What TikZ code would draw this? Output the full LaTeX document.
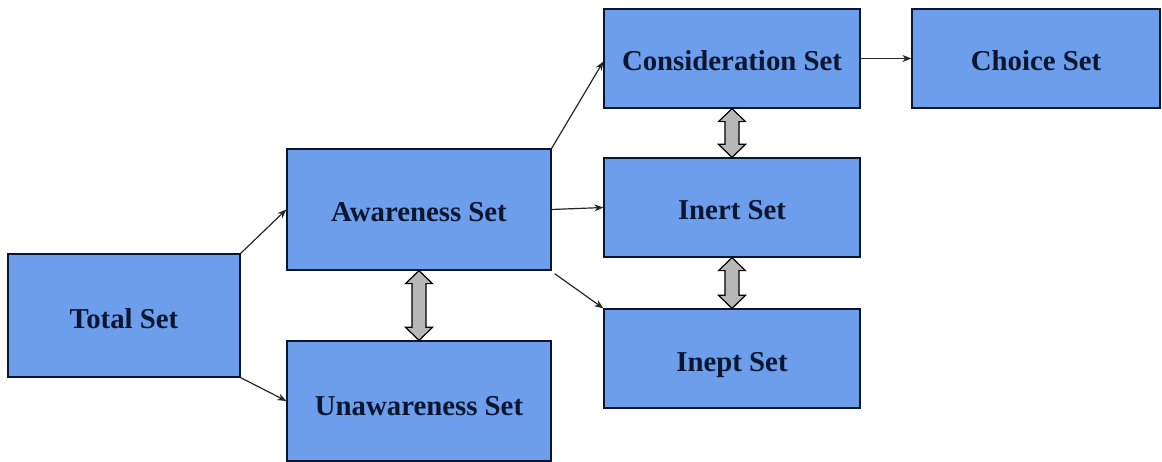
\documentclass[tikz,border=0pt]{standalone}
\usepackage{fontspec}
\setmainfont{Liberation Serif}
\usepackage{tikz}
\usetikzlibrary{arrows.meta, calc}
\usepackage{xcolor}
\definecolor{azzurro}{HTML}{6D9EEB}
\definecolor{blunotte}{HTML}{0A1630}
\definecolor{grigio}{HTML}{B7B7B7}
\newcommand{\frecciaDoppia}[2]{
\draw[doppia] let \p1 = (#1), \p2 = (#2) in
    (\x1,\y1) -- (\x1+13.5pt,\y1-13pt) -- (\x1+7pt,\y1-13pt) -- (\x1+7pt,\y2+13pt)
    -- (\x1+13.5pt,\y2+13pt) -- (\x1,\y2) -- (\x1-13.5pt,\y2+13pt) -- (\x1-7pt,\y2+13pt)
    -- (\x1-7pt,\y1-13pt) -- (\x1-13.5pt,\y1-13pt) -- cycle;
}

\begin{document}
\begin{tikzpicture}[x = 1pt, y = -1pt,
    insieme/.style = {draw = blunotte, line width = 1.3pt, fill = azzurro, text = blunotte,
        font = \fontsize{28.8}{32}\selectfont\bfseries, inner sep = 0pt, minimum height = 99pt,
        text height = 25pt, text depth = 0pt},
    freccia/.style = {draw = black!85, line width = 1.2pt, -{Stealth[length = 9pt, width = 7pt]}},
    doppia/.style = {draw = black, line width = 1.2pt, fill = grigio, line join = miter}]
    % Bordi
    \useasboundingbox (0,0) rectangle (1162,462);
    % Insiemi
    \node[insieme, minimum width = 232pt, minimum height = 123pt] (totale) at (124,315.5){Total Set};
    \node[insieme, minimum width = 264pt, minimum height = 121pt] (consapevole) at (419,209.5){Awareness Set};
    \node[insieme, minimum width = 264pt, minimum height = 120pt, text height = 29pt] (inconsapevole) at (419,401){Unawareness Set};
    \node[insieme, minimum width = 256pt] (considerazione) at (732,58.5){Consideration Set};
    \node[insieme, minimum width = 248pt] (scelta) at (1036,58.5){Choice Set};
    \node[insieme, minimum width = 256pt] (inerte) at (732,207.5){Inert Set};
    \node[insieme, minimum width = 256pt] (inetto) at (732,358.5){Inept Set};
    % Frecce
    \draw[freccia] (totale.north east) -- (consapevole.west);
    \draw[freccia] (totale.south east) -- (inconsapevole.west);
    \draw[freccia] (consapevole.north east) -- ($(considerazione.west)+(0,3)$);
    \draw[freccia] (consapevole.east) -- (inerte.west);
    \draw[freccia] ($(consapevole.south east)+(3,3)$) -- (inetto.north west);
    \draw[freccia] (considerazione.east) -- (scelta.west);
    % Frecce doppie
    \frecciaDoppia{consapevole.south}{inconsapevole.north}
    \frecciaDoppia{considerazione.south}{inerte.north}
    \frecciaDoppia{inerte.south}{inetto.north}
\end{tikzpicture}
\end{document}
